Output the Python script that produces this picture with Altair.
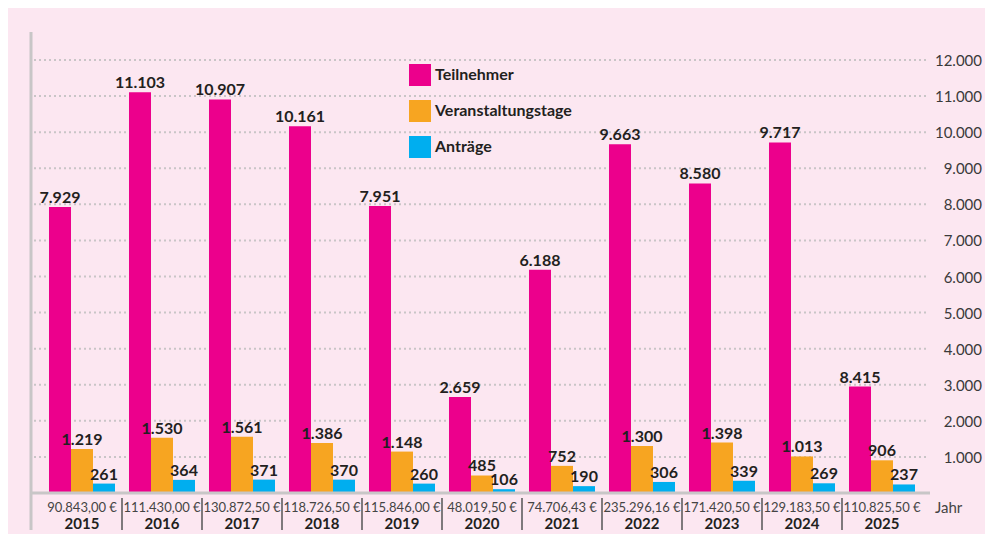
import altair as alt
import pandas as pd

years = ["2015", "2016", "2017", "2018", "2019", "2020", "2021", "2022", "2023", "2024", "2025"]
amounts = ["90.843,00 €", "111.430,00 €", "130.872,50 €", "118.726,50 €", "115.846,00 €",
           "48.019,50 €", "74.706,43 €", "235.296,16 €", "171.420,50 €", "129.183,50 €", "110.825,50 €"]
series = ["Teilnehmer", "Veranstaltungstage", "Anträge"]
colors = ["#ec008c", "#f7a521", "#00aeef"]

# bar heights as drawn in the picture (2025 Teilnehmer bar is drawn at ~2.950, labelled 8.415)
teilnehmer = [7929, 11103, 10907, 10161, 7951, 2659, 6188, 9663, 8580, 9717, 2950]
teilnehmer_labels = ["7.929", "11.103", "10.907", "10.161", "7.951", "2.659", "6.188", "9.663", "8.580", "9.717", "8.415"]
tage = [1219, 1530, 1561, 1386, 1148, 485, 752, 1300, 1398, 1013, 906]
tage_labels = ["1.219", "1.530", "1.561", "1.386", "1.148", "485", "752", "1.300", "1.398", "1.013", "906"]
antraege = [261, 364, 371, 370, 260, 106, 190, 306, 339, 269, 237]
antraege_labels = ["261", "364", "371", "370", "260", "106", "190", "306", "339", "269", "237"]
y_ticks = [1000, 2000, 3000, 4000, 5000, 6000, 7000, 8000, 9000, 10000, 11000, 12000]
y_tick_labels = ["1.000", "2.000", "3.000", "4.000", "5.000", "6.000", "7.000", "8.000",
                 "9.000", "10.000", "11.000", "12.000"]

rows = []
for name, vals, labs in [(series[0], teilnehmer, teilnehmer_labels),
                         (series[1], tage, tage_labels),
                         (series[2], antraege, antraege_labels)]:
    for yr, v, l in zip(years, vals, labs):
        rows.append({"year": yr, "series": name, "value": v, "label": l})
df = pd.DataFrame(rows)
cat_df = pd.DataFrame({"year": years, "amount": amounts})
sep_df = pd.DataFrame({"year": years[1:]})
grid_df = pd.DataFrame({"value": y_ticks, "label": y_tick_labels})

FONT = "Lato"
TXT = "#231f20"
PLOT_W, PLOT_H = 900, 433

x_enc = alt.X("year:N", sort=years, axis=None,
              scale=alt.Scale(paddingInner=0, paddingOuter=0.125))
xoff_enc = alt.XOffset("series:N", sort=series,
                       scale=alt.Scale(paddingInner=0, paddingOuter=0.318))
y_enc = alt.Y("value:Q", title=None, axis=None,
              scale=alt.Scale(domain=[0, 12000], nice=False))

grid = alt.Chart(grid_df).mark_rule(color="#c9c5c7", strokeDash=[2, 3], strokeWidth=2).encode(
    y=y_enc, x=alt.value(2), x2=alt.value(PLOT_W - 4)
)
tick_labels = alt.Chart(grid_df).mark_text(font=FONT, fontSize=15, color="#3a3a3a",
                                           align="right", baseline="middle", dy=1).encode(
    y=y_enc, x=alt.value(950), text="label:N"
)

bars = alt.Chart(df).mark_bar().encode(
    x=x_enc, xOffset=xoff_enc, y=y_enc,
    color=alt.Color("series:N", scale=alt.Scale(domain=series, range=colors),
                    legend=alt.Legend(title=None, orient="none", legendX=377, legendY=4,
                                      symbolType="square", symbolSize=484,
                                      symbolStrokeWidth=0, labelFont=FONT,
                                      labelFontSize=16, labelFontWeight="bold",
                                      labelColor=TXT, rowPadding=14, labelOffset=4)),
)

labels = alt.Chart(df).mark_text(font=FONT, fontSize=16, fontWeight="bold", color=TXT,
                                 baseline="alphabetic", dy=-4).encode(
    x=x_enc, xOffset=xoff_enc, y=y_enc, text="label:N"
)

zero_line = alt.Chart(pd.DataFrame({"value": [0]})).mark_rule(color="#c8c6c7", strokeWidth=3).encode(
    y=y_enc, x=alt.value(-1), x2=alt.value(PLOT_W - 2)
)
left_line = alt.Chart(pd.DataFrame({"v": [0]})).mark_rule(color="#c8c6c7", strokeWidth=3).encode(
    x=alt.value(-1), y=alt.value(-28), y2=alt.value(PLOT_H + 37)
)
seps = alt.Chart(sep_df).mark_rule(color="#555555", strokeWidth=1.5).encode(
    x=alt.X("year:N", sort=years, bandPosition=0), y=alt.value(PLOT_H + 5), y2=alt.value(PLOT_H + 37)
)
amount_text = alt.Chart(cat_df).mark_text(font=FONT, fontSize=13, color="#444444",
                                          baseline="middle").encode(
    x=alt.X("year:N", sort=years), y=alt.value(PLOT_H + 15), text="amount:N"
)
year_text = alt.Chart(cat_df).mark_text(font=FONT, fontSize=15, fontWeight="bold", color=TXT,
                                        baseline="middle").encode(
    x=alt.X("year:N", sort=years), y=alt.value(PLOT_H + 31), text="year:N"
)
jahr = alt.Chart(pd.DataFrame({"t": ["Jahr"]})).mark_text(font=FONT, fontSize=15, color="#444444",
                                                           align="left", baseline="middle").encode(
    x=alt.value(903), y=alt.value(PLOT_H + 15), text="t:N"
)

chart = alt.layer(grid, tick_labels, bars, labels, zero_line, left_line, seps,
                  amount_text, year_text, jahr).properties(
    width=PLOT_W, height=PLOT_H,
    autosize=alt.AutoSizeParams(type="none"),
    padding={"left": 24, "top": 52, "right": 53, "bottom": 41},
    background="#fce7f1",
).configure_view(stroke=None)

chart.save("out.html", embed_options={"renderer": "svg", "actions": False})
